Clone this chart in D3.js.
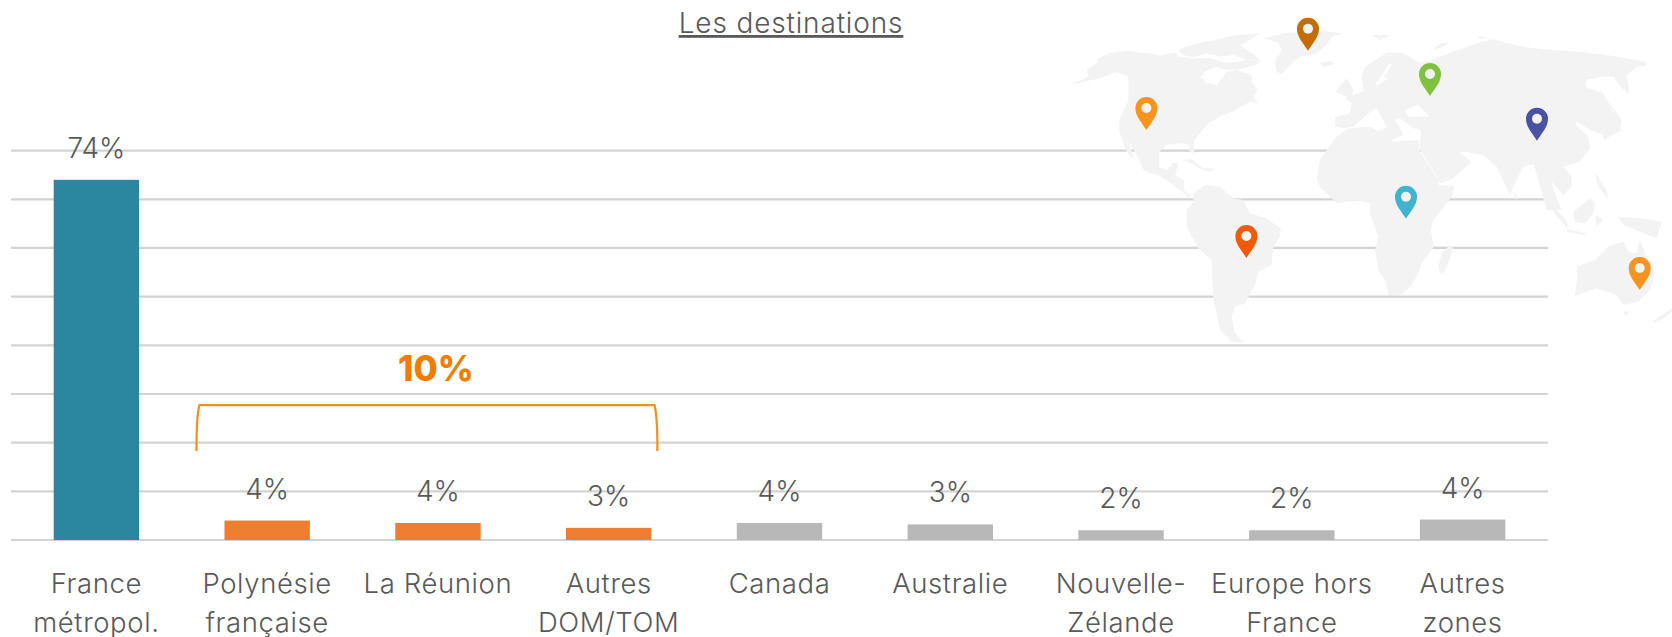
<!DOCTYPE html>
<html><head><meta charset="utf-8">
<script src="https://cdn.jsdelivr.net/npm/d3@7"></script>
<style>html,body{margin:0;padding:0;background:#fff;overflow:hidden}text{font-family:Inter,"Open Sans",sans-serif;font-weight:300;fill:#595959}</style>
</head><body><svg id="c" width="1672" height="637"></svg>
<script>
const categories=[["France","métropol."],["Polynésie","française"],["La Réunion"],["Autres","DOM/TOM"],["Canada"],["Australie"],["Nouvelle-","Zélande"],["Europe hors","France"],["Autres","zones"]];
const values=[74,4,3.5,2.5,3.5,3.2,2,2,4.2];
const valueLabels=["74%","4%","4%","3%","4%","3%","2%","2%","4%"];
const barColors=["#2a879f","#ed7d31","#ed7d31","#ed7d31","#b8b8b8","#b8b8b8","#b8b8b8","#b8b8b8","#b8b8b8"];
const gridTicks=[0,10,20,30,40,50,60,70,80];
const titleText="Les destinations";
const groupLabel="10%";
const pinX=[1308,1430,1146.4,1537,1406,1246.4,1639.7];
const pinTip=[50.7,96,130,140.7,218.7,258,290];
const pinColors=["#c46c05","#7fc241","#f7931e","#4a52a3","#42b3cf","#f15a0a","#f7931e"];
// Map outlines, one list per traced window
const landWest=[
[[35,193],[85,170],[80,150],[112,128],[110,118],[145,100],[205,92],[260,100],[300,105],[350,98],[355,110],[400,115],[450,115],[500,128],[540,125],[560,118],[600,125],[590,135],[540,148],[500,150],[470,140],[435,155],[420,170],[440,190],[470,195],[458,218],[475,190],[500,155],[530,150],[575,165],[575,185],[592,210],[580,232],[595,250],[570,245],[545,258],[515,275],[480,290],[445,310],[420,340],[402,362],[402,400],[390,395],[385,372],[350,370],[320,375],[298,395],[298,440],[320,450],[340,428],[355,430],[345,465],[372,480],[372,510],[395,530],[385,530],[340,495],[300,468],[250,450],[238,420],[215,380],[205,360],[222,418],[200,395],[178,335],[178,300],[205,240],[205,170],[170,155],[120,175]],
[[355,92],[380,78],[440,65],[530,45],[600,40],[570,60],[540,75],[590,110],[600,122],[560,118],[520,105],[480,110],[440,100],[400,112],[370,105]],
[[610,55],[680,38],[780,32],[850,40],[815,50],[800,75],[770,100],[720,110],[690,135],[665,162],[650,155],[645,125],[665,90],[655,68]],
[[778,128],[815,122],[822,132],[790,142]],
[[368,420],[395,418],[430,445],[462,445],[455,455],[425,450],[395,430]]
];
const landEast=[
[[45,290],[90,280],[95,250],[75,235],[130,215],[130,210],[125,170],[135,140],[200,98],[250,100],[300,130],[360,110],[400,95],[430,85],[470,70],[520,58],[570,72],[640,85],[700,90],[780,95],[860,105],[980,125],[975,138],[950,140],[920,165],[930,225],[905,205],[880,170],[840,170],[800,180],[795,200],[850,220],[880,280],[905,330],[850,360],[850,345],[810,330],[770,305],[765,312],[805,350],[810,385],[780,425],[730,440],[755,470],[755,500],[730,525],[695,485],[700,510],[725,570],[680,570],[655,480],[640,432],[610,440],[580,500],[570,525],[530,440],[490,405],[430,395],[420,400],[455,425],[400,475],[360,490],[345,460],[300,390],[300,370],[303,330],[280,325],[240,295],[225,300],[250,345],[210,362],[160,345],[200,320],[170,265],[145,280],[100,320],[70,325],[45,320]],
[[45,215],[80,175],[100,210],[95,235],[60,222]],
[[340,90],[360,70],[390,68],[360,85]],
[[155,45],[215,45],[180,60]],
[[465,45],[510,55],[480,55]],
[[855,360],[900,325],[905,300],[885,270],[880,285],[890,320],[850,345]],
[[835,205],[870,260],[895,290],[865,245]]
];
const landSouth=[
[[70,70],[105,45],[150,50],[190,85],[220,90],[240,130],[290,145],[332,175],[330,200],[310,230],[305,285],[265,305],[255,345],[225,400],[195,410],[185,440],[195,490],[222,518],[185,515],[150,480],[140,430],[130,390],[125,270],[85,235],[50,170],[50,120],[70,95]],
[[450,-30],[495,-95],[535,-125],[600,-130],[650,-105],[670,-85],[745,-90],[750,-55],[805,30],[805,45],[855,48],[845,80],[790,150],[782,180],[792,230],[755,280],[745,310],[720,350],[690,375],[655,375],[645,330],[625,300],[615,240],[625,200],[600,130],[600,100],[555,90],[500,100],[450,50],[440,30]],
[[840,225],[850,235],[825,305],[812,312],[805,290],[815,250]]
];
const landOceania=[
[[262,100],[300,130],[322,155],[322,175],[290,140]],
[[340,125],[390,85],[405,100],[400,130],[375,160],[345,155]],
[[320,178],[380,190],[370,195],[320,185]],
[[405,135],[430,150],[410,170]],
[[403,5],[440,60],[445,90],[415,50]],
[[475,140],[540,145],[605,155],[590,205],[540,185],[490,165]],
[[350,290],[405,270],[445,230],[490,215],[505,245],[530,250],[540,210],[555,250],[585,310],[570,360],[535,395],[490,405],[470,375],[410,355],[345,378],[352,320]],
[[490,425],[508,420],[497,438]],
[[575,455],[636,415],[636,425],[595,455]],
[[160,65],[175,85],[165,88]]
];
const seasEast=[
[[255,270],[295,255],[328,290],[265,292]],
[[208,130],[216,132],[192,170],[204,176],[170,198],[166,190],[184,168]]
];
const landColor="#f3f3f3";
const svg=d3.select("#c");
const x=d3.scaleBand().domain(d3.range(categories.length)).range([11,1548]).paddingInner(0.5).paddingOuter(0.25);
const y=d3.scaleLinear().domain([0,80]).range([540,150.6]);
svg.append("g").attr("transform","translate(11,0)")
 .call(d3.axisLeft(y).offset(0).tickValues(gridTicks).tickSize(-1537).tickFormat(""))
 .call(g=>{g.select(".domain").remove();g.selectAll("line").attr("stroke","#d3d3d3").attr("stroke-width",2.2);});
function drawWindow(shapes,ox,oy,fill){
 const mx=d3.scaleLinear().domain([0,3]).range([ox,ox+1]);
 const my=d3.scaleLinear().domain([0,3]).range([oy,oy+1]);
 const ln=d3.line().x(d=>mx(d[0])).y(d=>my(d[1])).curve(d3.curveLinearClosed);
 svg.append("g").selectAll("path").data(shapes).join("path").attr("d",ln).attr("fill",fill);
}
drawWindow(landWest,1060,20,landColor);
drawWindow(landEast,1320,20,landColor);
drawWindow(landSouth,1170,170,landColor);
drawWindow(landOceania,1460,170,landColor);
drawWindow(seasEast,1320,20,"#fff");
svg.append("g").selectAll("rect").data(values).join("rect")
 .attr("x",(d,i)=>x(i)).attr("width",x.bandwidth()).attr("y",d=>y(d)).attr("height",d=>y(0)-y(d)).attr("fill",(d,i)=>barColors[i]);
svg.append("g").selectAll("text").data(values).join("text")
 .attr("x",(d,i)=>x(i)+x.bandwidth()/2).attr("y",d=>y(d)-22).attr("text-anchor","middle").attr("font-size",28).text((d,i)=>valueLabels[i]);
const cat=svg.append("g").selectAll("text").data(categories).join("text").attr("text-anchor","middle").attr("font-size",27.5).attr("letter-spacing",0.6);
cat.selectAll("tspan").data((d,i)=>d.map((t,j)=>({t,j,i}))).join("tspan")
 .attr("x",d=>x(d.i)+x.bandwidth()/2).attr("y",d=>592.5+d.j*39.5).text(d=>d.t);
svg.append("text").attr("x",791).attr("y",33).attr("text-anchor","middle").attr("font-size",28).attr("letter-spacing",0.85).attr("text-decoration","underline").text(titleText);
const bx0=x(1)-28, bx1=x(3)+x.bandwidth()+6, by=y(27.7), bb=y(18.3);
svg.append("path").attr("fill","none").attr("stroke","#f0901e").attr("stroke-width",2.2)
 .attr("d",`M${bx0},${bb}Q${bx0},${by+10} ${bx0+3},${by}H${bx1-3}Q${bx1},${by+10} ${bx1},${bb}`);
svg.append("text").attr("x",(x(1)+x(3)+x.bandwidth())/2-2).attr("y",381).attr("text-anchor","middle").attr("font-size",35).style("font-weight",800).style("fill","#ef7d00").text(groupLabel);
const pins=svg.append("g").selectAll("g").data(pinX).join("g").attr("transform",(d,i)=>`translate(${d},${pinTip[i]})`);
pins.append("path").attr("d","M0,0C-4,-7 -11,-13 -11,-22A11,11 0 1 1 11,-22C11,-13 4,-7 0,0Z").attr("fill",(d,i)=>pinColors[i]);
pins.append("circle").attr("cy",-22).attr("r",5).attr("fill","#f2f2f2");
</script></body></html>
